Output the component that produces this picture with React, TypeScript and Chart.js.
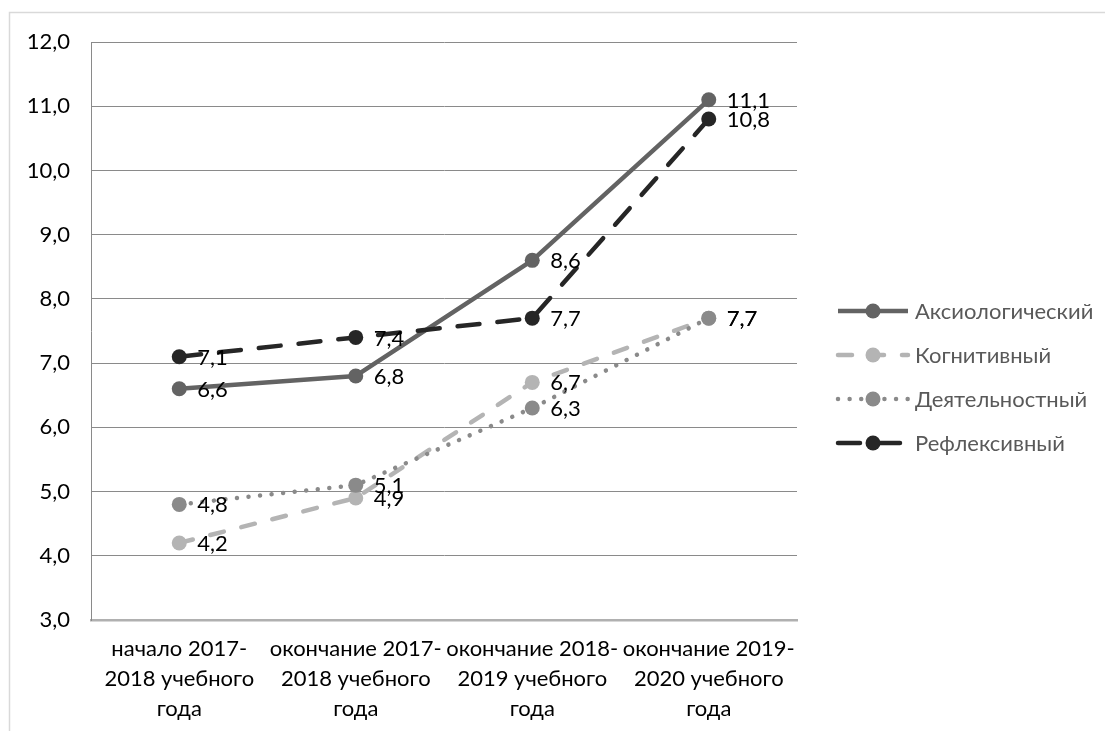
import React, { useEffect, useRef } from "react";
import { Chart, registerables } from "chart.js";

Chart.register(...registerables);

const categories: string[][] = [
  ["начало 2017-", "2018 учебного", "года"],
  ["окончание 2017-", "2018 учебного", "года"],
  ["окончание 2018-", "2019 учебного", "года"],
  ["окончание 2019-", "2020 учебного", "года"],
];

const seriesNames = ["Аксиологический", "Когнитивный", "Деятельностный", "Рефлексивный"];
const axiological = [6.6, 6.8, 8.6, 11.1];
const cognitive = [4.2, 4.9, 6.7, 7.7];
const activity = [4.8, 5.1, 6.3, 7.7];
const reflexive = [7.1, 7.4, 7.7, 10.8];

const yMin = 3;
const yMax = 12;
const yStep = 1;

const FONT = "Lato, 'Open Sans', sans-serif";
const FONT_SIZE = 22;
const W = 1105;
const H = 731;

const fmt = (v: number) => v.toFixed(1).replace(".", ",");

type Style = { color: string; dash: number[]; cap: CanvasLineCap; width: number };
const styles: Style[] = [
  { color: "#636363", dash: [], cap: "butt", width: 4.5 },
  { color: "#b4b4b4", dash: [14, 18], cap: "round", width: 4.5 },
  { color: "#8a8a8a", dash: [0.01, 11.6], cap: "round", width: 4.5 },
  { color: "#262626", dash: [22, 18], cap: "round", width: 4.5 },
];

const framePlugin = {
  id: "frame",
  beforeDraw(chart: any) {
    const ctx = chart.ctx as CanvasRenderingContext2D;
    ctx.save();
    ctx.fillStyle = "#ffffff";
    ctx.fillRect(0, 0, chart.width, chart.height);
    ctx.strokeStyle = "#d9d9d9";
    ctx.lineWidth = 1.5;
    ctx.beginPath();
    ctx.moveTo(9.5, chart.height);
    ctx.lineTo(9.5, 12.5);
    ctx.lineTo(chart.width, 12.5);
    ctx.stroke();
    ctx.restore();
  },
};

const valueLabelPlugin = {
  id: "valueLabels",
  afterDatasetsDraw(chart: any) {
    const ctx = chart.ctx as CanvasRenderingContext2D;
    ctx.save();
    ctx.font = `${FONT_SIZE}px ${FONT}`;
    ctx.fillStyle = "#000000";
    ctx.textAlign = "left";
    ctx.textBaseline = "middle";
    chart.data.datasets.forEach((ds: any, i: number) => {
      const meta = chart.getDatasetMeta(i);
      meta.data.forEach((pt: any, j: number) => {
        ctx.fillText(fmt(ds.data[j]), pt.x + 18, pt.y + 1);
      });
    });
    ctx.restore();
  },
};

const legendPlugin = {
  id: "sideLegend",
  afterDraw(chart: any) {
    const ctx = chart.ctx as CanvasRenderingContext2D;
    const x0 = 838;
    const x1 = 908;
    const top = 311;
    const gap = 44;
    ctx.save();
    chart.data.datasets.forEach((ds: any, i: number) => {
      const y = top + i * gap;
      ctx.strokeStyle = ds.borderColor;
      ctx.lineWidth = ds.borderWidth;
      ctx.lineCap = ds.borderCapStyle;
      ctx.setLineDash(ds.borderDash);
      ctx.beginPath();
      ctx.moveTo(x0, y);
      ctx.lineTo(x1, y);
      ctx.stroke();
      ctx.setLineDash([]);
      ctx.fillStyle = ds.pointBackgroundColor;
      ctx.beginPath();
      ctx.arc((x0 + x1) / 2, y, ds.pointRadius, 0, Math.PI * 2);
      ctx.fill();
      ctx.font = `${FONT_SIZE}px ${FONT}`;
      ctx.fillStyle = "#595959";
      ctx.textAlign = "left";
      ctx.textBaseline = "middle";
      ctx.fillText(ds.label, 915, y + 1);
    });
    ctx.restore();
  },
};

export default function App() {
  const ref = useRef<HTMLCanvasElement | null>(null);

  useEffect(() => {
    if (!ref.current) return;
    const values = [axiological, cognitive, activity, reflexive];
    const chart = new Chart(ref.current, {
      type: "line",
      data: {
        labels: categories,
        datasets: values.map((data, i) => ({
          label: seriesNames[i],
          data,
          borderColor: styles[i].color,
          backgroundColor: styles[i].color,
          pointBackgroundColor: styles[i].color,
          pointBorderColor: styles[i].color,
          pointBorderWidth: 0,
          pointRadius: 7.5,
          borderWidth: styles[i].width,
          borderDash: styles[i].dash,
          borderCapStyle: styles[i].cap,
          borderJoinStyle: "round",
          tension: 0,
          fill: false,
          order: 4 - i,
        })),
      },
      options: {
        responsive: false,
        animation: false,
        devicePixelRatio: 1,
        layout: { padding: { left: 0, top: 42, right: 308, bottom: 0 } },
        plugins: {
          legend: { display: false },
          tooltip: { enabled: false },
        },
        scales: {
          x: {
            offset: true,
            grid: { display: false, drawTicks: false },
            border: { display: true, color: "#b0b0b0", width: 2.5 },
            ticks: {
              color: "#000000",
              font: { family: FONT, size: FONT_SIZE, lineHeight: 30 / FONT_SIZE },
              padding: 14,
              maxRotation: 0,
              autoSkip: false,
            },
            afterFit: (scale: any) => {
              scale.height = 111;
            },
          },
          y: {
            min: yMin,
            max: yMax,
            grid: {
              drawTicks: false,
              color: (c: any) => (c.tick && c.tick.value === yMin ? "rgba(0,0,0,0)" : "#8a8a8a"),
              lineWidth: 1,
            },
            border: { display: true, color: "#8a8a8a", width: 1 },
            ticks: {
              stepSize: yStep,
              color: "#000000",
              font: { family: FONT, size: FONT_SIZE },
              padding: 21,
              callback: (v: any) => fmt(Number(v)),
            },
            afterFit: (scale: any) => {
              scale.width = 91;
            },
          },
        },
      },
      plugins: [framePlugin, valueLabelPlugin, legendPlugin],
    });
    return () => chart.destroy();
  }, []);

  return (
    <div style={{ position: "absolute", left: 0, top: 0, width: W, height: H, background: "#fff" }}>
      <canvas ref={ref} width={W} height={H} style={{ width: W, height: H, display: "block" }} />
    </div>
  );
}
